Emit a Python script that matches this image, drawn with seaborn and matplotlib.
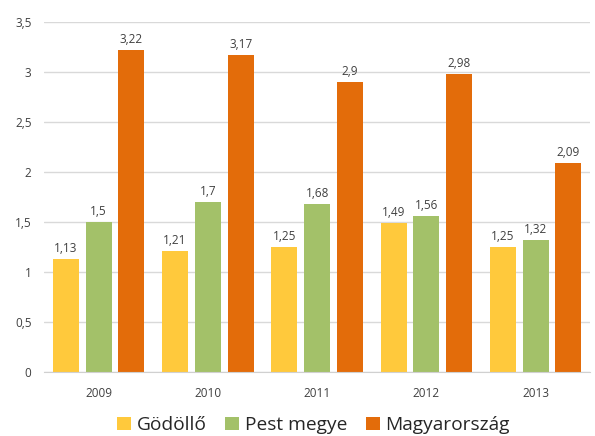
import matplotlib
matplotlib.use("Agg")
import matplotlib.pyplot as plt
import seaborn as sns
import pandas as pd

years = ["2009", "2010", "2011", "2012", "2013"]
series_names = ["Gödöllő", "Pest megye", "Magyarország"]
godollo = [1.13, 1.21, 1.25, 1.49, 1.25]
pest = [1.5, 1.7, 1.68, 1.56, 1.32]
magyar = [3.22, 3.17, 2.9, 2.98, 2.09]
yticks = [0, 0.5, 1, 1.5, 2, 2.5, 3, 3.5]
colors = ["#FFC93C", "#A3C169", "#E36C0A"]

rows = []
for name, vals in zip(series_names, [godollo, pest, magyar]):
    for y, v in zip(years, vals):
        rows.append({"Év": y, "Sorozat": name, "Érték": v})
df = pd.DataFrame(rows)

sns.set_style("white")
plt.rcParams["font.family"] = ["Open Sans", "DejaVu Sans"]

fig = plt.figure(figsize=(5.95, 4.36), dpi=100)
ax = fig.add_axes([0.074, 0.147, 0.918, 0.803])
sns.barplot(data=df, x="Év", y="Érték", hue="Sorozat", hue_order=series_names,
            palette=colors, width=0.9, gap=0.21, ax=ax, saturation=1, legend=True,
            linewidth=0)

ax.set_ylim(0, 3.5)
ax.set_yticks(yticks)
ax.set_yticklabels([("%g" % t).replace(".", ",") for t in yticks])
ax.grid(axis="y", color="#D9D9D9", linewidth=1)
ax.set_axisbelow(True)
for s in ["top", "right", "left"]:
    ax.spines[s].set_visible(False)
ax.spines["bottom"].set_color("#D0D0D0")
ax.set_xlabel("")
ax.set_ylabel("")
ax.tick_params(axis="y", length=0, labelsize=8.5, colors="#404040", pad=9)
ax.tick_params(axis="x", length=0, labelsize=8.5, colors="#404040", pad=11)

for cont in ax.containers:
    labels = [("%g" % b.get_height()).replace(".", ",") for b in cont]
    ax.bar_label(cont, labels=labels, padding=3, fontsize=8.5, color="#404040")

ax.legend(loc="center", bbox_to_anchor=(0.527, 0.025), bbox_transform=fig.transFigure,
          ncol=3, frameon=False,
          fontsize=13.8, handlelength=0.7, handleheight=0.7, columnspacing=1.0,
          handletextpad=0.3, labelcolor="#262626", borderpad=0)

fig.savefig("out.png", dpi=100)
